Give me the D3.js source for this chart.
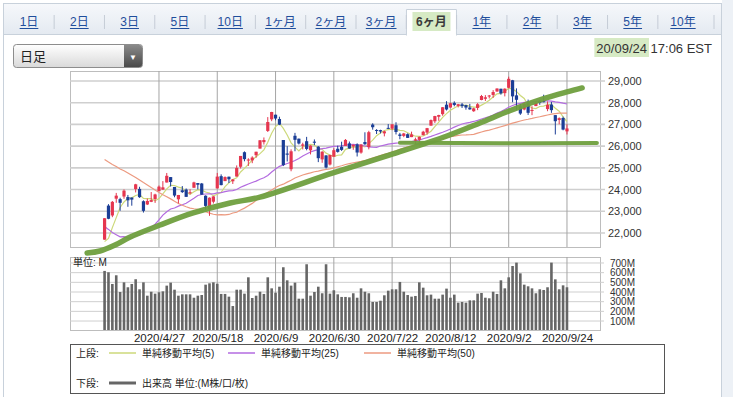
<!DOCTYPE html>
<html>
<head>
<meta charset="utf-8">
<script src="https://cdn.jsdelivr.net/npm/d3@7"></script>
<style>
    body { margin: 0; background: #fff; }
    svg { display: block; font-family: "Liberation Sans", "Noto Sans CJK JP", sans-serif; }
</style>
</head>
<body>
<svg id="chart" width="733" height="397"></svg>
<script>
// Trading days shown on the chart (2020)
const dates = [
    '4/6', '4/7', '4/8', '4/9', '4/13', '4/14', '4/15', '4/16', '4/17', '4/20', '4/21', '4/22', '4/23', '4/24', '4/27', '4/28', '4/29', '4/30',
    '5/1', '5/4', '5/5', '5/6', '5/7', '5/8', '5/11', '5/12', '5/13', '5/14', '5/15', '5/18', '5/19', '5/20', '5/21', '5/22', '5/26', '5/27', '5/28', '5/29',
    '6/1', '6/2', '6/3', '6/4', '6/5', '6/8', '6/9', '6/10', '6/11', '6/12', '6/15', '6/16', '6/17', '6/18', '6/19', '6/22', '6/23', '6/24', '6/25', '6/26', '6/29', '6/30',
    '7/1', '7/2', '7/6', '7/7', '7/8', '7/9', '7/10', '7/13', '7/14', '7/15', '7/16', '7/17', '7/20', '7/21', '7/22', '7/23', '7/24', '7/27', '7/28', '7/29', '7/30', '7/31',
    '8/3', '8/4', '8/5', '8/6', '8/7', '8/10', '8/11', '8/12', '8/13', '8/14', '8/17', '8/18', '8/19', '8/20', '8/21', '8/24', '8/25', '8/26', '8/27', '8/28', '8/31',
    '9/1', '9/2', '9/3', '9/4', '9/8', '9/9', '9/10', '9/11', '9/14', '9/15', '9/16', '9/17', '9/18', '9/21', '9/22', '9/23', '9/24'
];

const opens = [
    21693, 23262, 22806, 23581, 23559, 23679, 23656, 23633, 24022, 24030, 23463, 23313, 23435, 23563, 23925, 24000, 24325, 24575, 24120, 23552,
    23967, 23999, 23865, 24083, 24300, 24279, 23716, 23097, 23440, 24052, 24617, 24390, 24593, 24382, 24600, 25050, 25720, 25356, 25343, 25582,
    25887, 26184, 26700, 27233, 27447, 27251, 26282, 25659, 24937, 26477, 26343, 26016, 26227, 25806, 26207, 25977, 25390, 25572, 25153, 25512,
    25879, 25968, 26009, 26127, 25986, 26084, 25703, 26190, 25958, 26993, 26744, 26738, 26588, 26841, 26807, 26962, 26537, 26471, 26549, 26415,
    26250, 26288, 26501, 26625, 26944, 27144, 27353, 27472, 27910, 27776, 27992, 27853, 27925, 27890, 27778, 27608, 27758, 28125, 28180, 28285,
    28357, 28517, 28643, 28440, 28686, 29034, 28338, 27830, 27686, 28039, 27637, 27845, 28082, 28067, 27706, 27914, 27428, 27205, 27296, 26680
];
const highs = [
    22680, 23329, 23474, 23846, 23623, 24006, 23752, 23633, 24264, 24128, 23503, 23585, 23886, 23808, 24187, 24390, 24764, 24575, 24120, 23753,
    24161, 24049, 24015, 24361, 24300, 24303, 23734, 23639, 23693, 24766, 24700, 24607, 24593, 24476, 25112, 25548, 25758, 25441, 25532, 25742,
    26275, 26400, 27338, 27580, 27448, 27355, 26282, 26000, 25853, 26611, 26349, 26157, 26427, 26040, 26309, 26000, 25763, 25582, 25601, 25905,
    26023, 26204, 26325, 26212, 26070, 26129, 26087, 26638, 26707, 27052, 26780, 26755, 26711, 27016, 27009, 27099, 26610, 26609, 26588, 26667,
    26392, 26440, 26707, 26840, 27226, 27395, 27444, 27800, 28070, 28002, 28064, 27945, 27986, 27900, 27947, 27767, 27982, 28358, 28349, 28356,
    28580, 28660, 28643, 28659, 29199, 29050, 28660, 27940, 28028, 28143, 27834, 28073, 28123, 28368, 28059, 28037, 27428, 27323, 27360, 27003
];
const lows = [
    21693, 22634, 22728, 23392, 23022, 23575, 23206, 23257, 23868, 23617, 22941, 23287, 23422, 23386, 23925, 23980, 24325, 24141, 23645, 23361,
    23844, 23662, 23779, 24083, 24007, 23764, 23056, 22790, 23358, 24052, 24194, 24389, 24302, 24257, 24600, 24971, 25302, 25086, 25214, 25468,
    25887, 26073, 26651, 27150, 27191, 26967, 25082, 25293, 24843, 25765, 26077, 25850, 25808, 25618, 26046, 25263, 25234, 24971, 25109, 25512,
    25701, 25780, 26009, 25884, 25830, 25523, 25652, 26060, 25851, 26758, 26558, 26585, 26450, 26792, 26735, 26538, 26315, 26412, 26375, 26415,
    26090, 26000, 26501, 26532, 26944, 27067, 27168, 27400, 27641, 27776, 27835, 27783, 27758, 27678, 27677, 27579, 27658, 28111, 28080, 28195,
    28226, 28500, 28370, 28290, 28657, 28019, 27665, 27440, 27650, 27437, 27426, 27845, 27904, 28020, 27608, 27533, 26537, 27005, 26728, 26537
];
const closes = [
    22680, 22654, 23434, 23720, 23390, 23950, 23505, 23538, 24242, 23650, 23019, 23475, 23516, 23775, 24134, 24102, 24634, 24346, 23724, 23750,
    23883, 23664, 23876, 24331, 24222, 23765, 23248, 23625, 23685, 24597, 24206, 24576, 24474, 24465, 24995, 25548, 25401, 25383, 25475, 25742,
    26270, 26282, 27111, 27572, 27272, 26990, 25128, 25606, 25763, 26290, 26120, 26080, 25871, 26025, 26156, 25445, 25745, 25016, 25595, 25813,
    25735, 25827, 26287, 25890, 26067, 25706, 26075, 26086, 26643, 26870, 26735, 26672, 26681, 26840, 27005, 26652, 26470, 26584, 26379, 26540,
    26314, 26428, 26664, 26828, 27201, 27386, 27433, 27791, 27687, 27977, 27896, 27931, 27844, 27778, 27692, 27740, 27930, 28308, 28249, 28332,
    28492, 28654, 28430, 28646, 29100, 28292, 28133, 27501, 27940, 27535, 27666, 27993, 27995, 28032, 27902, 27657, 27148, 27288, 26763, 26815
];
// Volume, millions
const volumes = [
    618, 604, 483, 573, 400, 500, 449, 483, 532, 428, 500, 362, 403, 383, 397, 407, 466, 497, 424, 362,
    376, 376, 376, 341, 362, 369, 476, 490, 500, 486, 380, 380, 352, 255, 424, 424, 383, 552, 338, 362,
    403, 380, 552, 438, 393, 455, 656, 521, 466, 497, 331, 331, 687, 362, 400, 455, 387, 687, 383, 418,
    376, 349, 349, 345, 387, 341, 438, 403, 387, 297, 297, 310, 366, 414, 428, 428, 504, 403, 369, 352,
    359, 500, 445, 366, 373, 331, 331, 373, 435, 341, 373, 290, 297, 290, 314, 314, 383, 390, 341, 335,
    403, 380, 521, 438, 552, 669, 704, 593, 476, 459, 438, 387, 428, 421, 449, 704, 531, 428, 469, 449
];
// Closes before the first candle (1/27 - 4/3), only used to seed the moving averages
const priorCloses = [
    28535, 28723, 28734, 28859, 28256, 28400, 28808, 29290, 29380, 29103, 29276, 29276, 29551, 29423, 29398, 29232, 29348, 29219, 28992,
    27961, 27081, 26957, 25766, 25409, 26703, 25917, 27091, 26121, 25865, 23851, 25018, 23553, 21200, 23186, 20189, 21237, 19899, 20087,
    19174, 18592, 20705, 21200, 22552, 21637, 22327, 21917, 20944, 21413, 21053
];

const priceTicks = [22000, 23000, 24000, 25000, 26000, 27000, 28000, 29000];
const volumeTicks = [100, 200, 300, 400, 500, 600, 700];
const dateTicks = ['4/27', '5/18', '6/9', '6/30', '7/22', '8/12', '9/2', '9/24'];
const maPeriods = [5, 25, 50];
const maColors = ['#cdd97a', '#b36be0', '#ec9a80'];
const periodTabs = ['1日', '2日', '3日', '5日', '10日', '1ヶ月', '2ヶ月', '3ヶ月', '6ヶ月', '1年', '2年', '3年', '5年', '10年'];
const selectedTab = '6ヶ月';

// Hand-drawn support lines, as [day index, price]
const trendRising = [[-4.5, 21079], [-1.2, 21171], [2.7, 21447], [6.6, 21816], [14.3, 22368], [22.8, 22921], [32.3, 23382],
    [40, 23650], [58.8, 24764], [74.2, 25639], [88.1, 26468], [96.6, 27067], [104.1, 27620], [112.8, 28172], [119, 28495], [122.9, 28679]];
const trendFlat = [[76, 26160], [101.8, 26130], [126.7, 26150]];

const upColor = '#e5364f';
const downColor = '#1b3e96';
const gridColor = '#cfcfcf';

const main = { left: 70, right: 600, top: 71, bottom: 247 };
const vol = { left: 70, right: 600, top: 257, bottom: 330 };

const svg = d3.select('#chart');
const defs = svg.append('defs');

const x = d3.scaleLinear().domain([-8.9, 127.5]).range([main.left, main.right]);
const y = d3.scaleLinear().domain([21355, 29460]).range([main.bottom, main.top]);
const yv = d3.scaleLinear().domain([0, 762]).range([330.7, vol.top]);
const tabX = d3.scalePoint().domain(periodTabs).range([29, 683]);

const tickIdx = dateTicks.map(d => dates.indexOf(d));

// Gradients
const tabBg = defs.append('linearGradient').attr('id', 'tabBg').attr('x1', 0).attr('y1', 0).attr('x2', 0).attr('y2', 1);
tabBg.append('stop').attr('offset', '0%').attr('stop-color', '#f6f8fb');
tabBg.append('stop').attr('offset', '100%').attr('stop-color', '#e4eaf1');
const ddBg = defs.append('linearGradient').attr('id', 'ddBg').attr('x1', 0).attr('y1', 0).attr('x2', 0).attr('y2', 1);
ddBg.append('stop').attr('offset', '0%').attr('stop-color', '#ffffff');
ddBg.append('stop').attr('offset', '100%').attr('stop-color', '#d9d9d9');
const btnBg = defs.append('linearGradient').attr('id', 'btnBg').attr('x1', 0).attr('y1', 0).attr('x2', 0).attr('y2', 1);
btnBg.append('stop').attr('offset', '0%').attr('stop-color', '#8a8a8a');
btnBg.append('stop').attr('offset', '100%').attr('stop-color', '#4a4a4a');

defs.append('clipPath').attr('id', 'mainClip').append('rect')
    .attr('x', main.left).attr('y', main.top).attr('width', main.right - main.left).attr('height', main.bottom - main.top);

// Frame and tab bar
svg.append('rect').attr('x', 722).attr('y', 0).attr('width', 11).attr('height', 397).attr('fill', '#edf1f6');
svg.append('rect')
    .attr('x', 3.5).attr('y', 3.5).attr('width', 718).attr('height', 31)
    .attr('fill', 'url(#tabBg)').attr('stroke', '#c8d1db');
svg.append('line').attr('x1', 3.5).attr('x2', 3.5).attr('y1', 35).attr('y2', 397).attr('stroke', '#c8d1db');
svg.append('line').attr('x1', 721.5).attr('x2', 721.5).attr('y1', 35).attr('y2', 397).attr('stroke', '#c8d1db');

const selX = tabX(selectedTab);
svg.append('path')
    .attr('d', `M${selX - 25},35.5 V9.5 H${selX + 25} V35.5`)
    .attr('fill', '#fff').attr('stroke', '#c8d1db');
svg.append('rect').attr('x', selX - 24.5).attr('y', 34).attr('width', 49).attr('height', 3).attr('fill', '#fff');
svg.append('rect').attr('x', selX - 19).attr('y', 12).attr('width', 38).attr('height', 19).attr('fill', '#d6eac4');

const tabs = svg.append('g').selectAll('g.tab')
    .data(periodTabs)
    .join('g')
    .attr('class', 'tab');
tabs.append('text')
    .attr('x', d => tabX(d))
    .attr('y', 26)
    .attr('text-anchor', 'middle')
    .attr('font-size', 12)
    .attr('font-weight', d => d === selectedTab ? 'bold' : 'normal')
    .attr('fill', d => d === selectedTab ? '#3a3a3a' : '#1f4e9c')
    .text(d => d);
tabs.filter(d => d !== selectedTab).each(function (d) {
    const w = d3.select(this).select('text').node().getComputedTextLength();
    d3.select(this).append('line')
        .attr('x1', tabX(d) - w / 2).attr('x2', tabX(d) + w / 2)
        .attr('y1', 28.5).attr('y2', 28.5)
        .attr('stroke', '#1f4e9c');
});
// separators between the tabs
svg.append('g').selectAll('line')
    .data(periodTabs.slice(1))
    .join('line')
    .attr('x1', (d, i) => (tabX(d) + tabX(periodTabs[i])) / 2)
    .attr('x2', (d, i) => (tabX(d) + tabX(periodTabs[i])) / 2)
    .attr('y1', 15).attr('y2', 29)
    .attr('stroke', '#c5ccd6');
svg.append('line').attr('x1', 714).attr('x2', 714).attr('y1', 15).attr('y2', 29).attr('stroke', '#c5ccd6');

// Dropdown
svg.append('rect')
    .attr('x', 13.5).attr('y', 44.5).attr('width', 129).attr('height', 23).attr('rx', 3)
    .attr('fill', 'url(#ddBg)').attr('stroke', '#8d8d8d');
svg.append('path')
    .attr('d', 'M124,45 H139.5 Q142,45 142,47.5 V64.5 Q142,67 139.5,67 H124 Z')
    .attr('fill', 'url(#btnBg)');
svg.append('text').attr('x', 133).attr('y', 60).attr('text-anchor', 'middle')
    .attr('font-size', 8).attr('fill', '#fff').text('▼');
svg.append('text').attr('x', 20).attr('y', 61).attr('font-size', 13).attr('fill', '#222').text('日足');

// Timestamp with highlighted date
const stampHi = svg.append('rect').attr('y', 38).attr('height', 19).attr('fill', '#d6eac4');
const stamp = svg.append('text')
    .attr('x', 712).attr('y', 53).attr('text-anchor', 'end')
    .attr('font-size', 13).attr('fill', '#333')
    .text('20/09/24 17:06 EST');
const stampBox = stamp.node().getBBox();
const dateW = stamp.node().getSubStringLength(0, 8);
stampHi.attr('x', stampBox.x - 2).attr('width', dateW + 4);

// Price panel
svg.append('rect')
    .attr('x', main.left + 0.5).attr('y', main.top + 0.5)
    .attr('width', main.right - main.left).attr('height', main.bottom - main.top)
    .attr('fill', '#fff').attr('stroke', '#bdbdbd');
svg.append('g').selectAll('line')
    .data(priceTicks)
    .join('line')
    .attr('x1', main.left).attr('x2', main.right + 5)
    .attr('y1', d => y(d)).attr('y2', d => y(d))
    .attr('stroke', gridColor).attr('stroke-width', 1.6);
svg.append('g').selectAll('line')
    .data(tickIdx)
    .join('line')
    .attr('x1', d => x(d)).attr('x2', d => x(d))
    .attr('y1', main.top).attr('y2', main.bottom)
    .attr('stroke', '#a5a5a5');

const priceAxis = d3.axisRight(y)
    .tickValues(priceTicks)
    .tickFormat(d3.format(','))
    .tickSize(0)
    .tickPadding(8);
svg.append('g')
    .attr('transform', `translate(${main.right},0)`)
    .call(priceAxis)
    .call(g => g.select('.domain').remove())
    .call(g => g.selectAll('text').attr('font-size', 11).attr('fill', '#333').attr('font-family', null));

const plot = svg.append('g').attr('clip-path', 'url(#mainClip)');

// Moving averages
const allCloses = priorCloses.concat(closes);
const offset = priorCloses.length;
maPeriods.forEach((p, k) => {
    const ma = closes.map((c, i) => d3.mean(allCloses.slice(offset + i - p + 1, offset + i + 1)));
    plot.append('path')
        .datum(ma)
        .attr('fill', 'none')
        .attr('stroke', maColors[k])
        .attr('stroke-width', 1.2)
        .attr('d', d3.line().x((d, i) => x(i)).y(d => y(d)));
});

// Candles
const candles = plot.append('g').selectAll('g.candle')
    .data(closes.map((c, i) => ({ i, o: opens[i], h: highs[i], l: lows[i], c })))
    .join('g')
    .attr('class', 'candle');
candles.append('line')
    .attr('x1', d => x(d.i)).attr('x2', d => x(d.i))
    .attr('y1', d => y(d.h)).attr('y2', d => y(d.l))
    .attr('stroke', d => d.c >= d.o ? upColor : downColor);
candles.append('rect')
    .attr('x', d => x(d.i) - 1.6)
    .attr('width', 3.2)
    .attr('y', d => y(Math.max(d.o, d.c)))
    .attr('height', d => Math.max(1, Math.abs(y(d.o) - y(d.c))))
    .attr('fill', d => d.c >= d.o ? upColor : downColor);

// Support lines drawn on top
const trendLine = d3.line().x(d => x(d[0])).y(d => y(d[1])).curve(d3.curveCatmullRom);
svg.append('path').datum(trendFlat)
    .attr('d', trendLine).attr('fill', 'none')
    .attr('stroke', '#6f9f3e').attr('stroke-width', 4).attr('stroke-linecap', 'round').attr('opacity', 0.95);
svg.append('path').datum(trendRising)
    .attr('d', trendLine).attr('fill', 'none')
    .attr('stroke', '#6f9f3e').attr('stroke-width', 5.5).attr('stroke-linecap', 'round').attr('opacity', 0.95);

// Volume panel
svg.append('rect')
    .attr('x', vol.left + 0.5).attr('y', vol.top + 0.5)
    .attr('width', vol.right - vol.left).attr('height', vol.bottom - vol.top)
    .attr('fill', '#fff').attr('stroke', '#bdbdbd');
svg.append('g').selectAll('line')
    .data(volumeTicks)
    .join('line')
    .attr('x1', vol.left).attr('x2', vol.right + 4)
    .attr('y1', d => yv(d)).attr('y2', d => yv(d))
    .attr('stroke', gridColor);
svg.append('g').selectAll('line')
    .data(tickIdx)
    .join('line')
    .attr('x1', d => x(d)).attr('x2', d => x(d))
    .attr('y1', vol.top).attr('y2', vol.bottom)
    .attr('stroke', '#a5a5a5');
svg.append('g').selectAll('rect')
    .data(volumes)
    .join('rect')
    .attr('x', (d, i) => x(i) - 1.3)
    .attr('width', 2.6)
    .attr('y', d => yv(d))
    .attr('height', d => vol.bottom - yv(d))
    .attr('fill', '#666');

const volAxis = d3.axisRight(yv)
    .tickValues(volumeTicks)
    .tickFormat(d => d + 'M')
    .tickSize(0)
    .tickPadding(10);
svg.append('g')
    .attr('transform', `translate(${vol.right},0)`)
    .call(volAxis)
    .call(g => g.select('.domain').remove())
    .call(g => g.selectAll('text').attr('font-size', 10).attr('fill', '#333').attr('font-family', null));
svg.append('text').attr('x', 73).attr('y', 266).attr('font-size', 10).attr('fill', '#222').text('単位: M');

// Date axis
const dateAxis = d3.axisBottom(x)
    .tickValues(tickIdx)
    .tickFormat(i => '2020/' + dates[i])
    .tickSize(0)
    .tickPadding(4);
svg.append('g')
    .attr('transform', `translate(0,${vol.bottom})`)
    .call(dateAxis)
    .call(g => g.select('.domain').remove())
    .call(g => g.selectAll('text').attr('font-size', 11.5).attr('fill', '#222').attr('font-family', null));

// Legend
const legend = svg.append('g');
legend.append('rect')
    .attr('x', 70.5).attr('y', 344.5).attr('width', 594).attr('height', 49)
    .attr('fill', '#fff').attr('stroke', '#555');
legend.append('text').attr('x', 76).attr('y', 357).attr('font-size', 10).attr('fill', '#222').text('上段:');
legend.append('text').attr('x', 76).attr('y', 387).attr('font-size', 10).attr('fill', '#222').text('下段:');
const maX = [109, 228, 364];
maPeriods.forEach((p, k) => {
    legend.append('line')
        .attr('x1', maX[k]).attr('x2', maX[k] + 27).attr('y1', 353).attr('y2', 353)
        .attr('stroke', maColors[k]).attr('stroke-width', 1.5);
    legend.append('text')
        .attr('x', maX[k] + 33).attr('y', 357).attr('font-size', 10).attr('fill', '#222')
        .text(`単純移動平均(${p})`);
});
legend.append('line')
    .attr('x1', 109).attr('x2', 136).attr('y1', 383).attr('y2', 383)
    .attr('stroke', '#666').attr('stroke-width', 3);
legend.append('text').attr('x', 142).attr('y', 387).attr('font-size', 10).attr('fill', '#222')
    .text('出来高 単位:(M株/口/枚)');
</script>
</body>
</html>
